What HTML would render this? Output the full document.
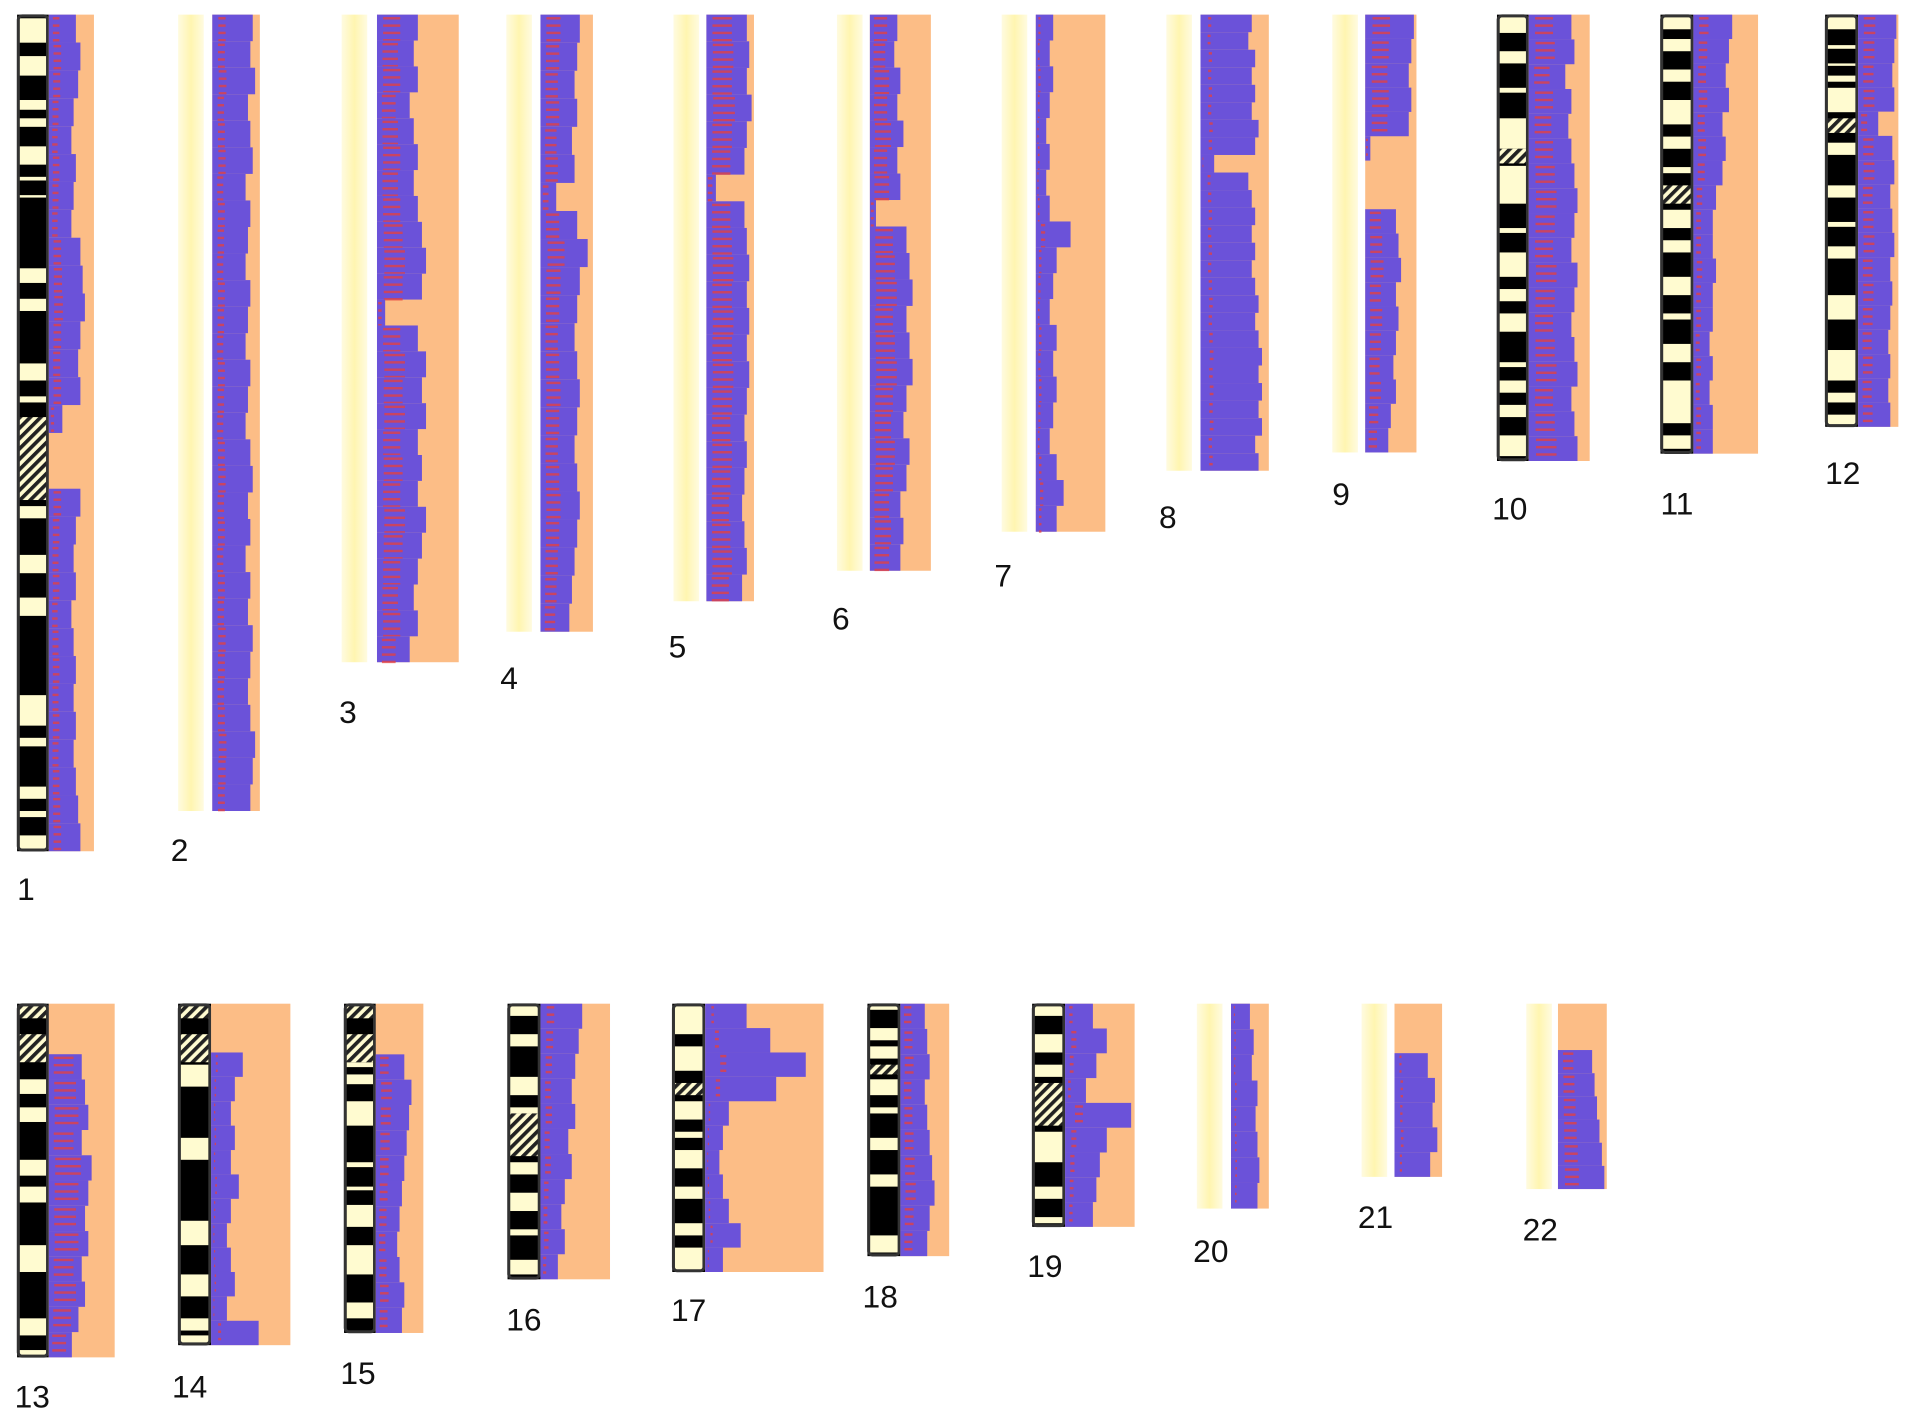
<!DOCTYPE html>
<html><head><meta charset="utf-8"><style>
html,body{margin:0;padding:0;background:#fff;}
svg{display:block;}
text{font-family:"Liberation Sans",sans-serif;font-size:26px;fill:#111;}
</style></head><body>
<svg id="chart" width="1913" height="1422" viewBox="0 0 1568 1166" preserveAspectRatio="none" xmlns="http://www.w3.org/2000/svg">
<defs>
<pattern id="hatch" width="6" height="6" patternUnits="userSpaceOnUse" patternTransform="rotate(45)">
<rect width="6" height="6" fill="#fffbd0"/><rect width="3" height="6" fill="#222"/>
</pattern>
<linearGradient id="yel" x1="0" x2="1" y1="0" y2="0">
<stop offset="0" stop-color="#fffbe0"/><stop offset="0.5" stop-color="#fff5b0"/><stop offset="1" stop-color="#fffbe0"/>
</linearGradient>
</defs>
</svg>
<script>
const chromNames=["1","2","3","4","5","6","7","8","9","10","11","12","13","14","15","16","17","18","19","20","21","22"];
const v1=[0.6,0.7,0.65,0.55,0.5,0.6,0.55,0.5,0.7,0.75,0.8,0.7,0.65,0.7,0.3,0,0,0.7,0.6,0.55,0.6,0.5,0.55,0.6,0.55,0.6,0.55,0.6,0.65,0.7];
const v2=[0.85,0.8,0.9,0.75,0.8,0.85,0.7,0.8,0.75,0.7,0.8,0.75,0.7,0.8,0.75,0.7,0.8,0.85,0.75,0.8,0.7,0.8,0.75,0.85,0.8,0.75,0.8,0.9,0.85,0.8];
const v3=[0.5,0.45,0.5,0.4,0.45,0.5,0.45,0.5,0.55,0.6,0.55,0.1,0.5,0.6,0.55,0.6,0.5,0.55,0.5,0.6,0.55,0.5,0.45,0.5,0.4];
const v4=[0.75,0.7,0.65,0.7,0.6,0.65,0.3,0.7,0.9,0.75,0.7,0.65,0.7,0.75,0.7,0.65,0.7,0.75,0.7,0.65,0.6,0.55];
const v5=[0.85,0.9,0.85,0.95,0.85,0.8,0.2,0.8,0.85,0.9,0.85,0.9,0.85,0.9,0.85,0.8,0.85,0.8,0.75,0.8,0.85,0.75];
const v6=[0.45,0.4,0.5,0.45,0.55,0.45,0.5,0.1,0.6,0.65,0.7,0.6,0.65,0.7,0.6,0.55,0.65,0.6,0.5,0.55,0.5];
const v7=[0.25,0.2,0.25,0.2,0.15,0.2,0.15,0.2,0.5,0.3,0.25,0.2,0.3,0.25,0.3,0.25,0.2,0.3,0.4,0.3];
const v8=[0.75,0.7,0.8,0.75,0.8,0.75,0.85,0.8,0.2,0.7,0.75,0.8,0.75,0.8,0.75,0.8,0.85,0.8,0.85,0.9,0.85,0.9,0.85,0.9,0.8,0.85];
const v9=[0.95,0.9,0.85,0.9,0.85,0.1,0,0,0.6,0.65,0.7,0.6,0.65,0.6,0.55,0.6,0.5,0.45];
const v10=[0.7,0.75,0.6,0.7,0.65,0.7,0.75,0.8,0.75,0.7,0.8,0.75,0.7,0.75,0.8,0.7,0.75,0.8];
const v11=[0.6,0.55,0.5,0.55,0.45,0.5,0.45,0.35,0.3,0.3,0.35,0.3,0.3,0.25,0.3,0.25,0.3,0.3];
const v12=[0.95,0.9,0.85,0.9,0.5,0.85,0.9,0.8,0.85,0.9,0.8,0.85,0.8,0.75,0.8,0.75,0.8];
const v13=[0,0,0.5,0.55,0.6,0.5,0.65,0.6,0.55,0.6,0.5,0.55,0.45,0.35];
const v14=[0,0,0.4,0.3,0.25,0.3,0.25,0.35,0.25,0.2,0.25,0.3,0.2,0.6];
const v15=[0,0,0.6,0.75,0.7,0.65,0.6,0.55,0.5,0.45,0.5,0.6,0.55];
const v16=[0.6,0.55,0.5,0.45,0.5,0.4,0.45,0.35,0.3,0.35,0.25];
const v17=[0.35,0.55,0.85,0.6,0.2,0.15,0.12,0.15,0.2,0.3,0.15];
const v18=[0.5,0.55,0.6,0.5,0.55,0.6,0.65,0.7,0.6,0.55];
const v19=[0.4,0.6,0.45,0.3,0.95,0.6,0.5,0.45,0.4];
const v20=[0.5,0.6,0.55,0.7,0.65,0.7,0.75,0.7];
const v21=[0,0,0.7,0.85,0.8,0.9,0.75];
const v22=[0,0,0.7,0.75,0.8,0.85,0.9,0.95];
const values=[v1,v2,v3,v4,v5,v6,v7,v8,v9,v10,v11,v12,v13,v14,v15,v16,v17,v18,v19,v20,v21,v22];
const redShare=[0.2,0.15,0.35,0.3,0.4,0.4,0.1,0.05,0.3,0.35,0.2,0.25,0.5,0.05,0.25,0.15,0.05,0.25,0.1,0.05,0.05,0.25];
const layout=[
[14,40,77,12,698,14,738,1],[146,174,213,12,665,140,706,0],[280,309,376,12,543,278,593,0],[415,443,486,12,518,410,565,0],
[552,579,618,12,493,548,539,0],[686,713,763,12,468,682,516,0],[821,849,906,12,436,815,481,0],[956,984,1040,12,386,950,433,0],
[1092,1119,1161,12,371,1092,414,0],[1227,1253,1303,12,378,1223,426,1],[1361,1388,1441,12,372,1361,422,1],[1496,1523,1556,12,350,1496,397,1],
[14,40,94,823,1113,12,1154,1],[146,173,238,823,1103,141,1146,1],[282,308,347,823,1093,279,1135,1],[416,443,500,823,1049,415,1091,1],
[551,578,675,823,1043,550,1083,1],[711,738,778,823,1030,707,1072,1],[846,873,930,823,1006,842,1047,1],[981,1009,1040,823,991,978,1035,0],
[1116,1143,1182,823,965,1113,1007,0],[1251,1277,1317,823,975,1248,1017,0]];
const lightBands={
0:[[3,23],[34,50],[70,78],[85,92],[108,123],[133,136],[148,150],[208,220],[233,243],[286,300],[313,318],[403,413],[443,458],[478,493],[558,583],[593,600],[633,643],[653,658],[673,684]],
9:[[2,15],[30,40],[60,64],[85,110],[124,155],[175,179],[195,215],[225,235],[245,260],[285,289],[300,310],[320,330],[345,362]],
10:[[2,12],[20,30],[45,55],[70,90],[100,110],[125,130],[160,175],[185,195],[215,230],[245,250],[270,285],[300,335],[345,356]],
11:[[2,12],[25,28],[40,42],[50,55],[60,80],[105,115],[140,150],[170,174],[190,200],[230,250],[275,300],[310,318],[328,336]],
12:[[62,74],[85,97],[128,141],[150,163],[198,220],[258,272],[284,288]],
13:[[50,68],[110,128],[178,198],[222,240],[258,268],[272,278]],
14:[[48,52],[58,66],[80,100],[130,134],[150,153],[165,183],[198,222],[245,258]],
15:[[2,10],[25,35],[60,75],[85,90],[130,140],[155,170],[185,190],[210,222]],
16:[[2,25],[35,55],[80,95],[105,110],[120,135],[150,160],[180,190],[200,218]],
17:[[2,5],[20,30],[35,45],[62,75],[85,90],[110,120],[140,150],[190,204]],
18:[[2,10],[25,40],[50,60],[105,130],[150,160],[175,180]]};
const hatchBands={0:[[330,398]],9:[[110,122]],10:[[140,155]],11:[[85,97]],12:[[0,12],[25,48]],13:[[0,12],[25,48]],14:[[0,12],[25,48]],15:[[90,125]],16:[[65,75]],17:[[50,58]],18:[[65,100]]};

const svg=document.getElementById('chart');
const NS='http://www.w3.org/2000/svg';
function mk(tag,attrs,parent){const e=document.createElementNS(NS,tag);for(const k in attrs)e.setAttribute(k,attrs[k]);parent.appendChild(e);return e;}
function xScale(L,f){return L[1]+f*(L[2]-L[1]);}
function yScale(L,i,n){return L[3]+i*(L[4]-L[3])/n;}

chromNames.forEach((name,ci)=>{
  const L=layout[ci];
  const g=document.createElementNS(NS,'g');
  
  
  svg.appendChild(g);
  const len=L[4]-L[3];
  if(L[7]){
    const ideo=mk('g',{},g);
    
    
    mk('rect',{x:L[0],y:L[3],width:L[1]-L[0],height:len,fill:'#000'},ideo);
    (lightBands[ci]||[]).forEach(b=>mk('rect',{x:L[0]+2,y:L[3]+b[0],width:L[1]-L[0]-4,height:b[1]-b[0],fill:'#fffbd0'},ideo));
    (hatchBands[ci]||[]).forEach(b=>mk('rect',{x:L[0]+2,y:L[3]+b[0],width:L[1]-L[0]-4,height:b[1]-b[0],fill:'url(#hatch)'},ideo));
    mk('rect',{x:L[0]+1,y:L[3]+1,width:L[1]-L[0]-2,height:len-2,rx:3,fill:'none',stroke:'#333',"stroke-width":2.5},ideo);
  } else {
    const s=mk('rect',{x:L[0],y:L[3],width:21,height:len,fill:'url(#yel)'},g);
    
    
  }
  const p=mk('rect',{x:L[1],y:L[3],width:L[2]-L[1],height:len,fill:'#fcbd86'},g);
  
  
  const vals=values[ci];const n=vals.length;
  vals.forEach((v,i)=>{
    if(v<=0)return;
    const y0=yScale(L,i,n),y1=yScale(L,i+1,n);
    const w=xScale(L,v)-L[1];
    const b=mk('rect',{x:L[1],y:y0,width:w,height:y1-y0,fill:'#6b52d9'},g);
    
    
    const rs=redShare[ci];
    if(rs>0){
      for(let y=y0+2;y<y1-1;y+=6){
        const r=mk('rect',{x:L[1]+w*0.15,y:y,width:w*rs*1.2,height:2,fill:'#e8403a',opacity:0.75},g);
        
        
      }
    }
  });
  const t=mk('text',{x:L[5],y:L[6]},g);
  t.textContent=name;
  
  
});
</script>
</body></html>
